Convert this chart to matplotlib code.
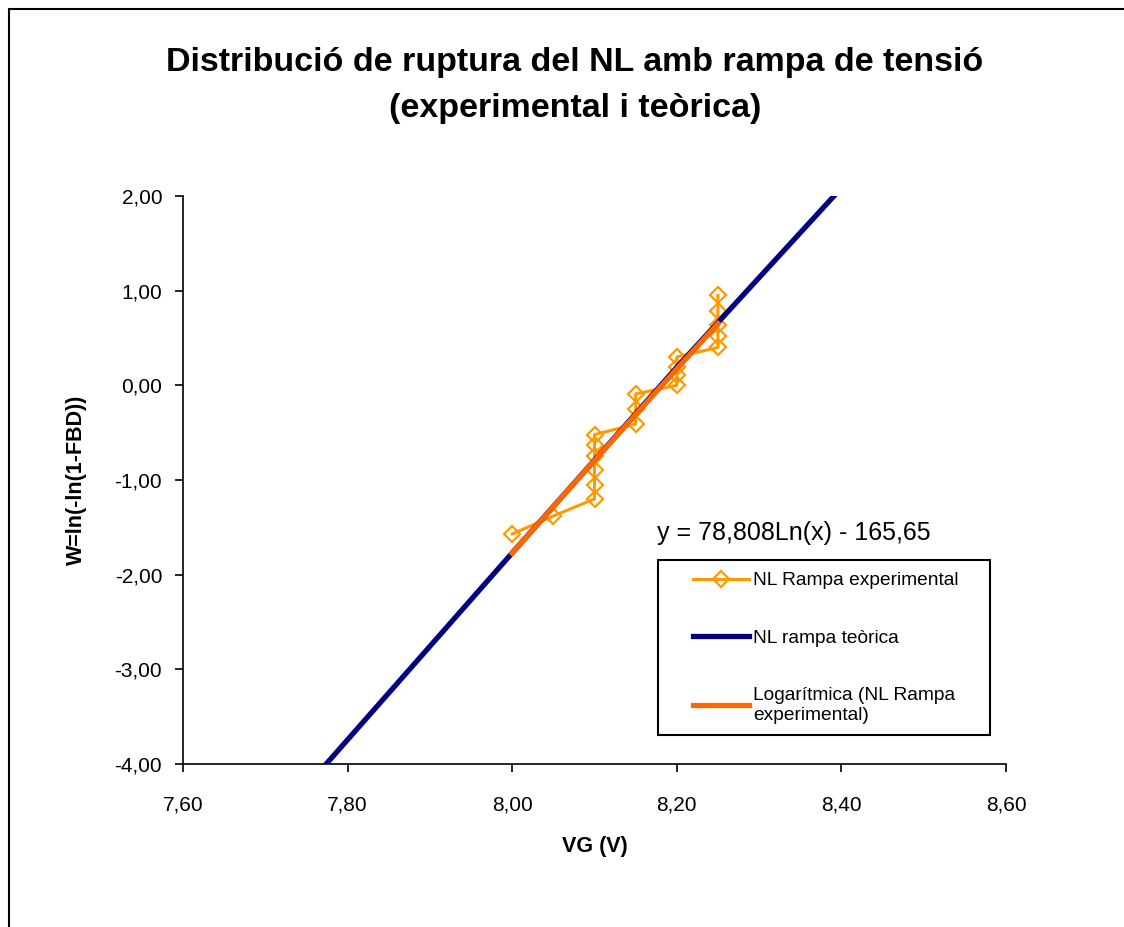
import numpy as np
import matplotlib
matplotlib.use("Agg")
import matplotlib.pyplot as plt
from matplotlib.patches import Rectangle
from matplotlib.ticker import FuncFormatter

plt.rcParams['font.family'] = ['Liberation Sans', 'DejaVu Sans']

vg_exp = [8.00, 8.05, 8.10, 8.10, 8.10, 8.10, 8.10, 8.10,
          8.15, 8.15, 8.15, 8.20, 8.20, 8.20, 8.20,
          8.25, 8.25, 8.25, 8.25, 8.25]
w_exp = [-1.57, -1.38, -1.20, -1.05, -0.89, -0.75, -0.63, -0.52,
         -0.41, -0.25, -0.09, 0.00, 0.11, 0.19, 0.30,
         0.40, 0.52, 0.64, 0.79, 0.95]

# theoretical line
vg_teo = [7.70, 7.774, 8.00, 8.20, 8.391, 8.45]
w_teo = [-4.69, -4.00, -1.77, 0.19, 2.00, 2.57]

# log trendline coefficients
fit_a = 78.808
fit_b = -165.65
fit_range = [8.00, 8.25]

xticks = [7.60, 7.80, 8.00, 8.20, 8.40, 8.60]
yticks = [-4, -3, -2, -1, 0, 1, 2]

fig = plt.figure(figsize=(11.24, 9.27), dpi=100)
W, H = 1124, 927

# outer chart border
fig.patches.append(Rectangle((9 / W, -0.05), 1.2, (927 - 9) / H + 0.05,
                             transform=fig.transFigure, fill=False,
                             edgecolor='black', linewidth=1.5))

ax = fig.add_axes([183 / W, (927 - 764) / H, 823 / W, 568 / H])

ax.plot(vg_exp, w_exp, color='#FF9900', lw=2.2, marker='D', ms=8,
        mfc='none', mec='#FF9900', mew=1.6, zorder=2,
        label='NL Rampa experimental')
ax.plot(vg_teo, w_teo, color='#000080', lw=3.8, zorder=3,
        label='NL rampa teòrica')
xf = np.linspace(fit_range[0], fit_range[1], 50)
ax.plot(xf, fit_a * np.log(xf) + fit_b, color='#FF6600', lw=3.8, zorder=4,
        label='Logarítmica (NL Rampa\nexperimental)')

ax.set_xlim(7.60, 8.60)
ax.set_ylim(-4, 2)
ax.set_xticks(xticks)
ax.set_yticks(yticks)
fmt = FuncFormatter(lambda v, p: f"{v:.2f}".replace('.', ','))
ax.xaxis.set_major_formatter(fmt)
ax.yaxis.set_major_formatter(fmt)
ax.tick_params(labelsize=15, direction='out', length=6, width=1.2)
ax.tick_params(axis='x', pad=17)
ax.tick_params(axis='y', pad=9)
for s in ['top', 'right']:
    ax.spines[s].set_visible(False)
for s in ['left', 'bottom']:
    ax.spines[s].set_linewidth(1.2)

ax.set_xlabel('VG (V)', fontsize=15.5, fontweight='bold', labelpad=15)
ax.set_ylabel('W=ln(-ln(1-FBD))', fontsize=15.5, fontweight='bold', labelpad=20)

fig.text(575 / W, 1 - 63 / H, 'Distribució de ruptura del NL amb rampa de tensió',
         ha='center', va='center', fontsize=24.5, fontweight='bold')
fig.text(575 / W, 1 - 108 / H, '(experimental i teòrica)',
         ha='center', va='center', fontsize=24.5, fontweight='bold')

fig.text(657 / W, 1 - 533 / H, 'y = 78,808Ln(x) - 165,65',
         ha='left', va='center', fontsize=18)

# legend frame drawn separately to match the wide left padding
fig.patches.append(Rectangle((658 / W, 1 - 735 / H), 332 / W, 175 / H,
                             transform=fig.transFigure, fill=False,
                             edgecolor='black', linewidth=1.5, zorder=5))
leg = ax.legend(loc='upper left', bbox_to_anchor=(693 / W, 1 - 572 / H),
                bbox_transform=fig.transFigure, fontsize=13.8, frameon=False,
                handlelength=2.9, labelspacing=2.1, borderpad=0,
                handletextpad=0.25, borderaxespad=0)

fig.savefig('out.png', dpi=100)
